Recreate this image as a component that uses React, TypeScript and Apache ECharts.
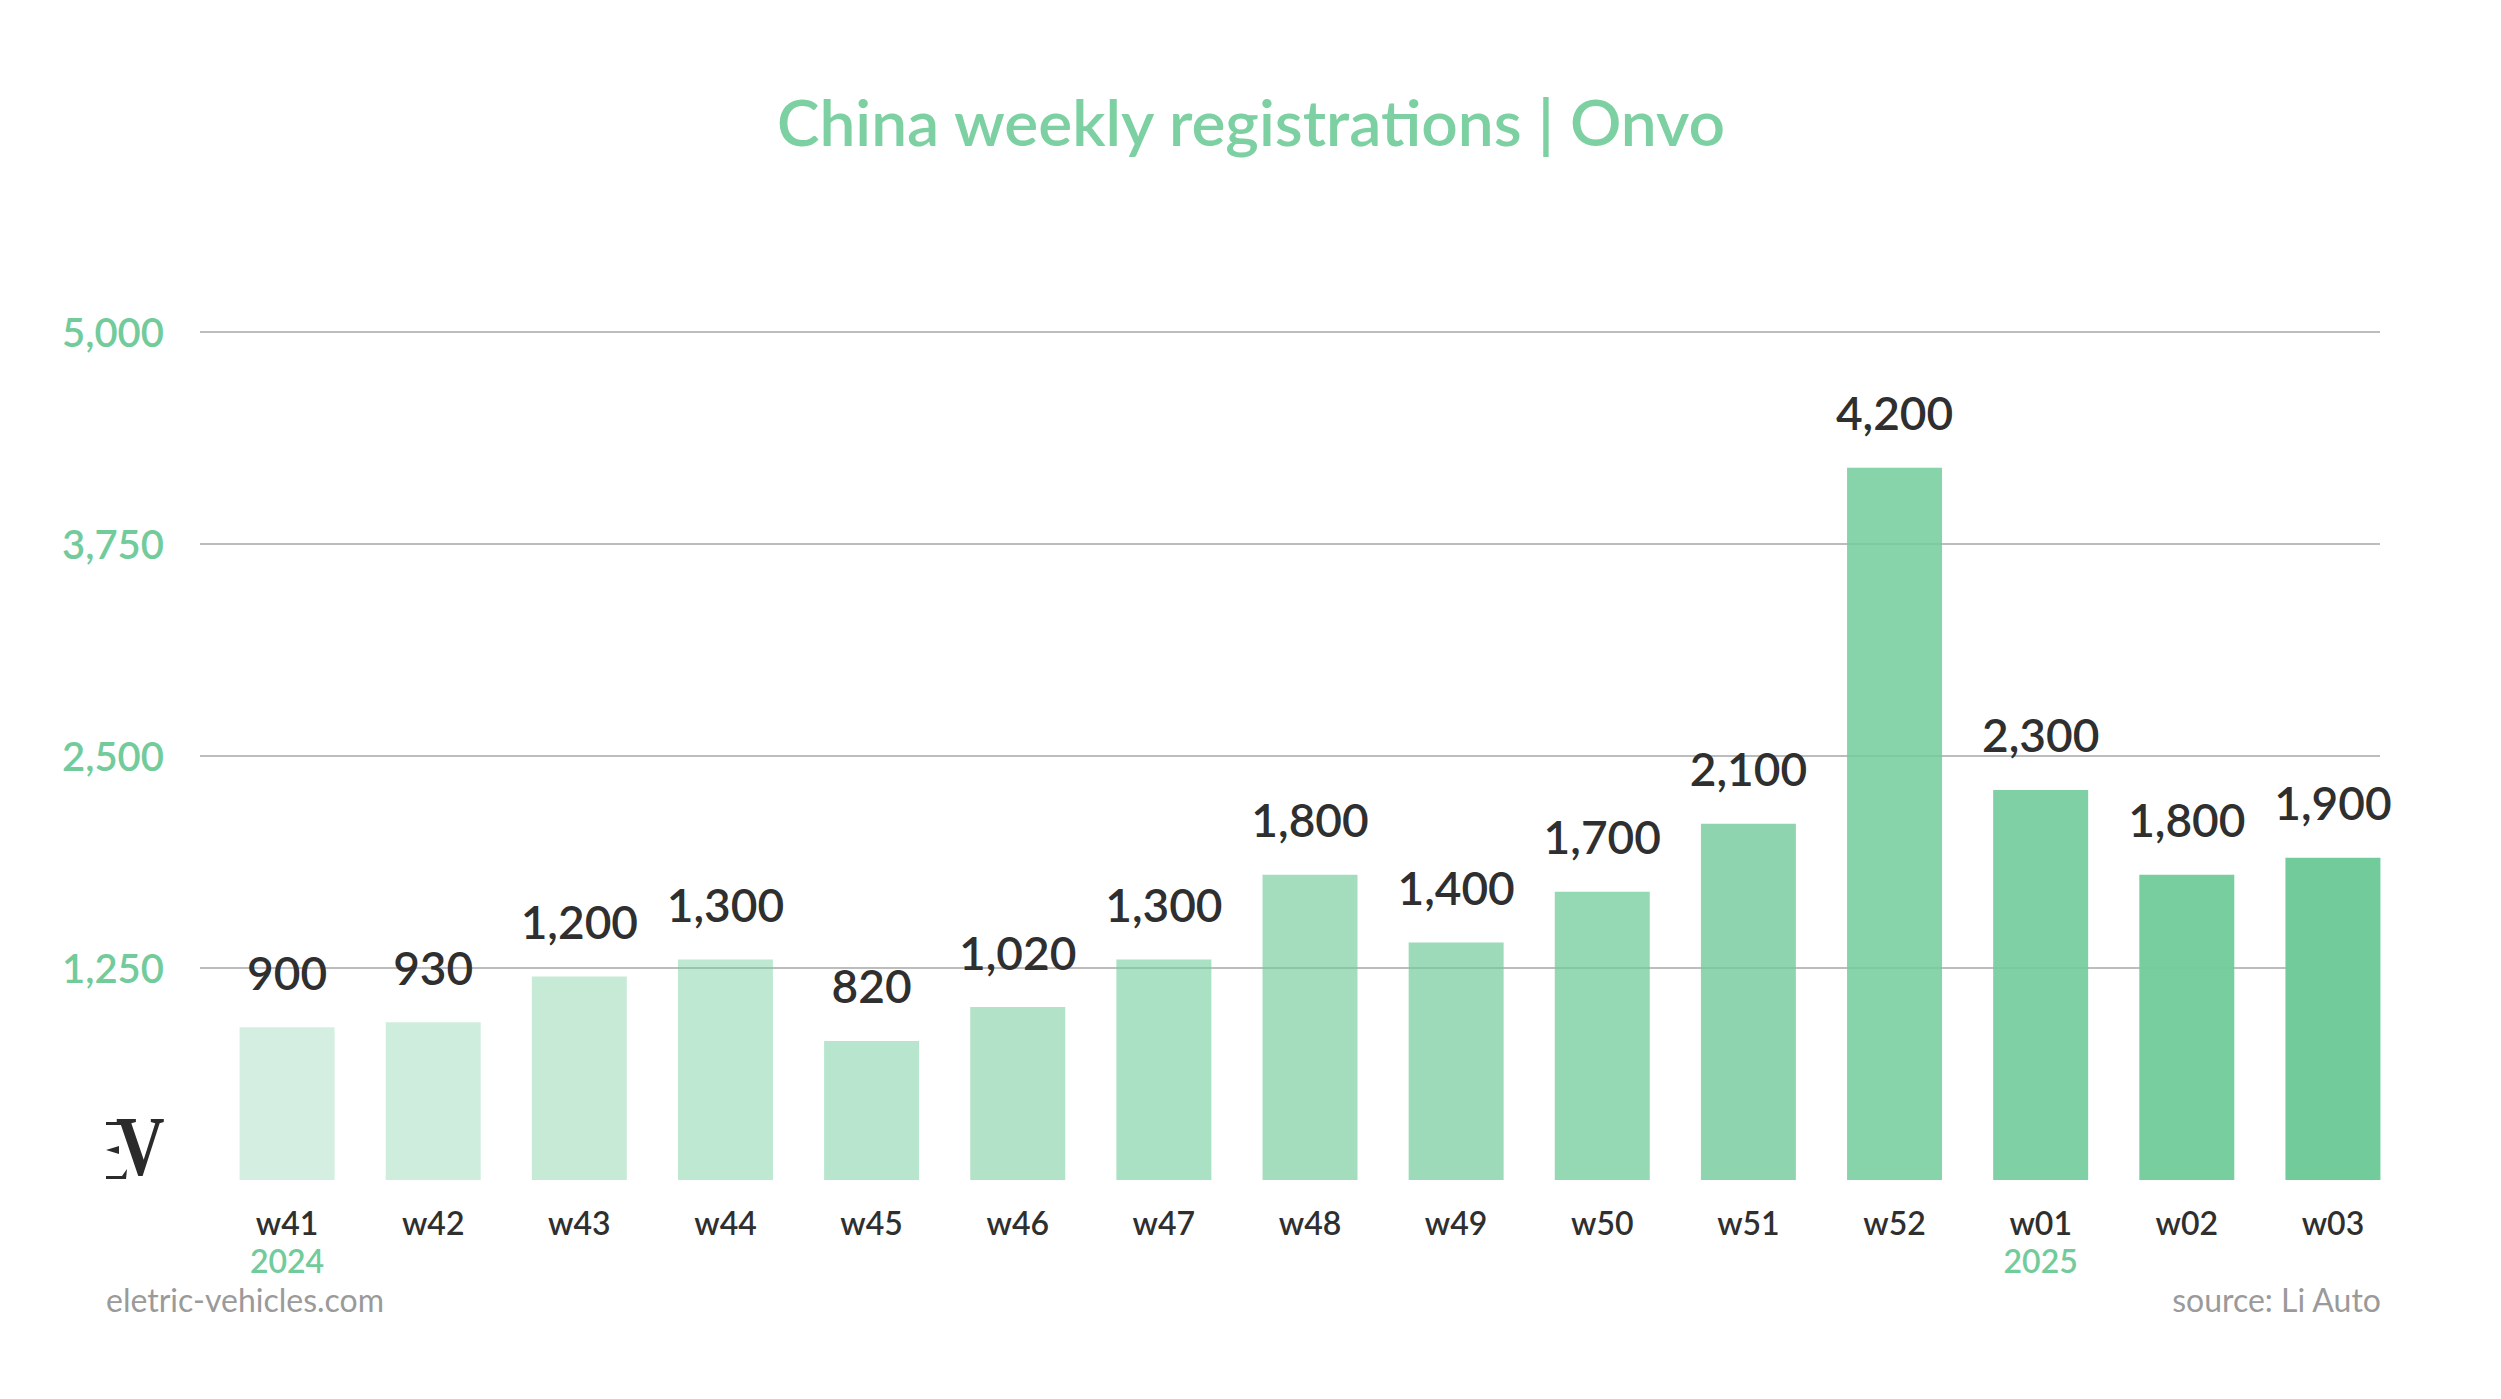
import React, { useEffect, useRef } from "react";
import * as echarts from "echarts";

const weeks = ["w41", "w42", "w43", "w44", "w45", "w46", "w47", "w48", "w49", "w50", "w51", "w52", "w01", "w02", "w03"];
const registrations = [900, 930, 1200, 1300, 820, 1020, 1300, 1800, 1400, 1700, 2100, 4200, 2300, 1800, 1900];
const yearLabels = ["2024", "", "", "", "", "", "", "", "", "", "", "", "2025", "", ""];
const yTicks = [0, 1250, 2500, 3750, 5000];

const GREEN = "#72cb9b";
const TEXT = "#2f2f2f";
const FONT = "Lato, 'Open Sans', sans-serif";

const fmt = (v: number) => v.toLocaleString("en-US");

const App: React.FC = () => {
  const chartRef = useRef<HTMLDivElement>(null);

  useEffect(() => {
    if (!chartRef.current) return;
    const chart = echarts.init(chartRef.current, null, { renderer: "svg" });

    const yRange = {
      min: yTicks[0],
      max: yTicks[yTicks.length - 1],
      interval: yTicks[1] - yTicks[0],
    };

    const option = {
      animation: false,
      backgroundColor: "#ffffff",
      textStyle: { fontFamily: FONT },
      grid: [
        { left: 214, top: 332, width: 2192, height: 848 },
        // second grid only carries the gridlines, which start a little further left
        { left: 200, top: 332, width: 2180, height: 848 },
      ],
      xAxis: [
        {
          type: "category",
          gridIndex: 0,
          data: weeks,
          axisLine: { show: false },
          axisTick: { show: false },
          axisLabel: {
            margin: 23,
            interval: 0,
            formatter: (v: string, i: number) =>
              yearLabels[i] ? `{w|${v}}\n{y|${yearLabels[i]}}` : `{w|${v}}`,
            rich: {
              w: { fontSize: 32, color: TEXT, fontWeight: 600, lineHeight: 38, fontFamily: FONT },
              y: { fontSize: 32, color: GREEN, fontWeight: 600, lineHeight: 38, fontFamily: FONT },
            },
          },
        },
        { type: "value", gridIndex: 1, min: 0, max: 1, show: false },
      ],
      yAxis: [
        {
          type: "value",
          gridIndex: 0,
          ...yRange,
          axisLine: { show: false },
          axisTick: { show: false },
          axisLabel: {
            margin: 50,
            showMinLabel: false,
            color: GREEN,
            fontSize: 40,
            fontWeight: 600,
            fontFamily: FONT,
            formatter: (v: number) => (v === 0 ? "" : fmt(v)),
          },
          splitLine: { show: false },
          z: 3,
        },
        {
          type: "value",
          gridIndex: 1,
          ...yRange,
          axisLine: { show: false },
          axisTick: { show: false },
          axisLabel: { show: false },
          splitLine: { showMinLine: false, lineStyle: { color: "#bdbdbd", width: 2 } },
          z: 0,
        },
      ],
      series: [
        {
          type: "bar",
          xAxisIndex: 0,
          yAxisIndex: 0,
          z: 2,
          data: registrations.map((v, i) => ({
            value: v,
            itemStyle: { color: `rgba(114, 203, 155, ${(0.3 + 0.05 * i).toFixed(2)})` },
          })),
          barCategoryGap: "35%",
          label: {
            show: true,
            position: "top",
            distance: 32,
            color: TEXT,
            fontSize: 46,
            fontWeight: 600,
            fontFamily: FONT,
            formatter: (p: any) => fmt(p.value),
          },
        },
      ],
      graphic: [
        {
          type: "text",
          x: 1251,
          y: 121,
          style: {
            text: "China weekly registrations | Onvo",
            font: `600 64px ${FONT}`,
            fill: "#7dd0a2",
            align: "center",
            verticalAlign: "middle",
          },
        },
        // EV logo: the arms of the E, then the V
        { type: "polygon", shape: { points: [[106, 1122], [127, 1122], [127, 1125], [106, 1125]] }, style: { fill: "#2b2b2b" } },
        { type: "polygon", shape: { points: [[106, 1150], [119, 1146], [119, 1154]] }, style: { fill: "#2b2b2b" } },
        { type: "polygon", shape: { points: [[106, 1176], [122, 1176], [127, 1169], [126, 1179], [106, 1179]] }, style: { fill: "#2b2b2b" } },
        {
          type: "text",
          left: 116,
          top: 1104,
          scaleX: 0.8,
          style: { text: "V", font: "bold 84px 'Liberation Serif', serif", fill: "#2b2b2b" },
        },
        {
          type: "text",
          left: 106,
          top: 1283,
          style: { text: "eletric-vehicles.com", font: `32px ${FONT}`, fill: "#9a9a9a" },
        },
        {
          type: "text",
          right: 2501 - 2382,
          top: 1283,
          style: { text: "source: Li Auto", font: `32px ${FONT}`, fill: "#9a9a9a" },
        },
      ],
    };

    chart.setOption(option);
    return () => {
      chart.dispose();
    };
  }, []);

  return (
    <div
      ref={chartRef}
      style={{ position: "absolute", left: 0, top: 0, width: "2501px", height: "1399px" }}
    />
  );
};

export default App;
